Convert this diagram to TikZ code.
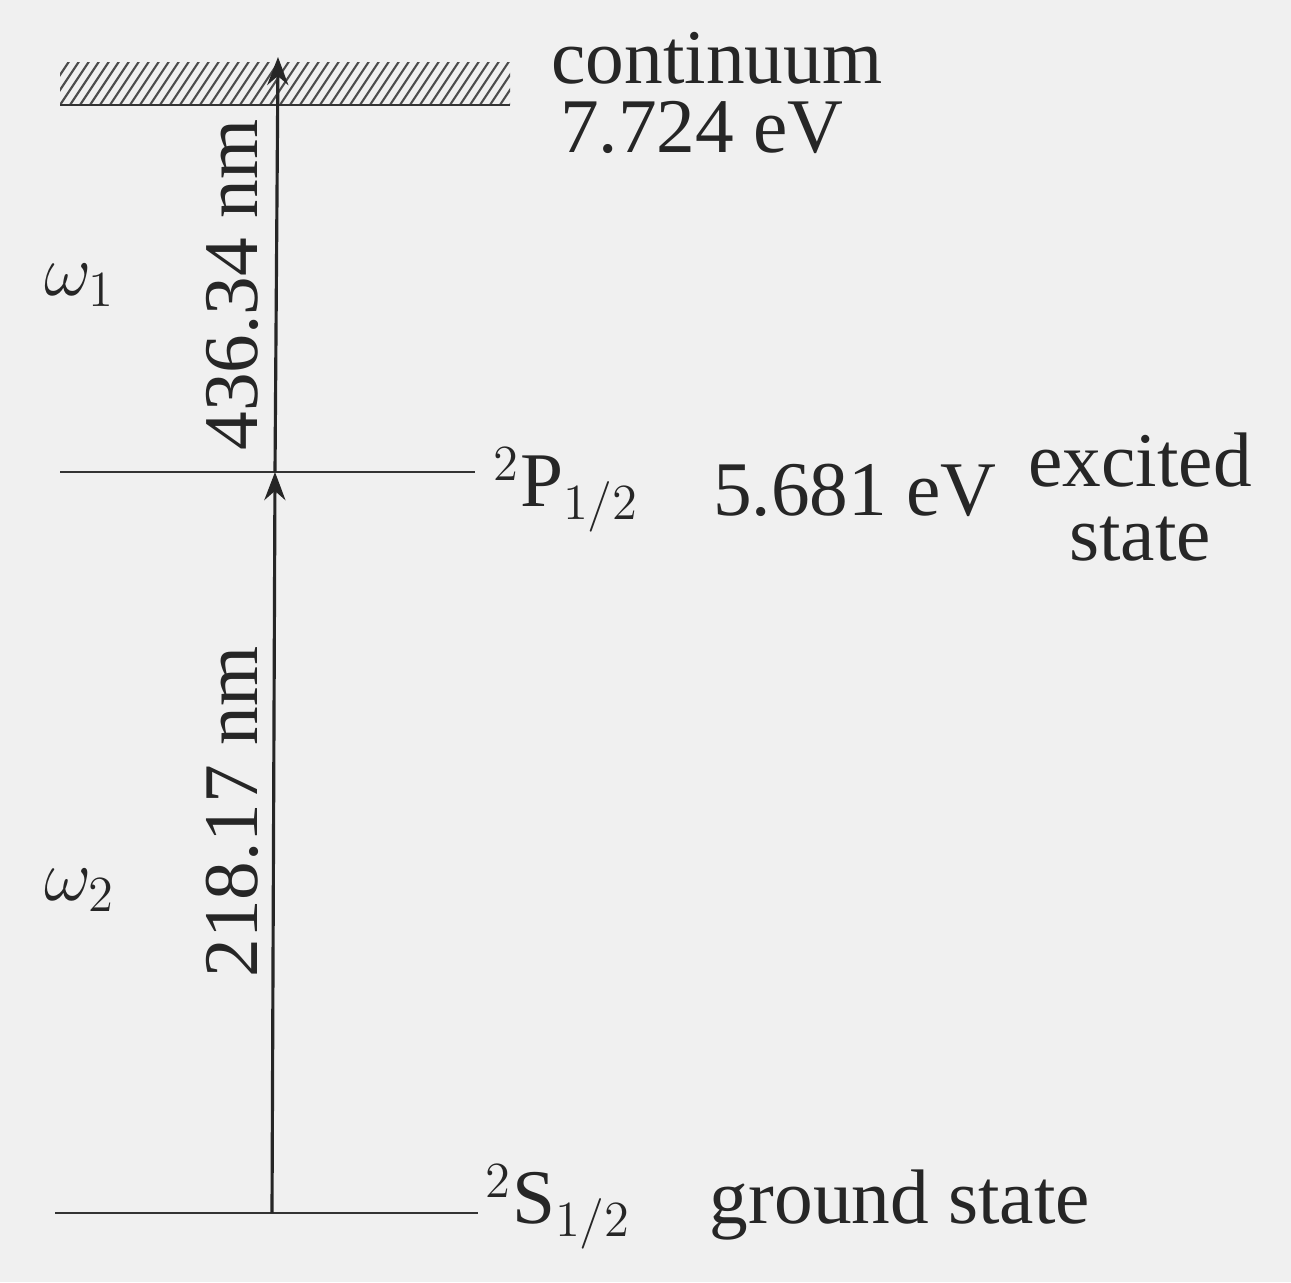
\documentclass[tikz,border=0pt]{standalone}
\usepackage{fontspec}
\setmainfont{Liberation Serif}
\usetikzlibrary{positioning,arrows.meta}

\begin{document}
\begin{tikzpicture}[font=\fontsize{22}{21}\selectfont,
    level/.style={line width=0.8pt, black!80},
    photon/.style={line width=0.9pt, black!85, -{Stealth[length=8pt,width=6pt]}},
    lbl/.style={inner sep=0pt, black!85}]
    \fill[black!6] (0,0) rectangle (12.91,12.82);
    \useasboundingbox (0,0) rectangle (12.91,12.82);

    % energy levels
    \coordinate (cL) at (0.60,11.77);
    \coordinate (cR) at (5.10,11.77);
    \coordinate (pL) at (0.60,8.10);
    \coordinate (pR) at (4.75,8.10);
    \coordinate (sL) at (0.55,0.69);
    \coordinate (sR) at (4.78,0.69);

    % continuum hatching
    \begin{scope}
    \clip (0.60,11.77) rectangle (5.10,12.19);
    \foreach \x in {0.3,0.4,...,5.2}
        \draw[line width=0.6pt, black!70] (\x,11.77) -- ++(0.3,0.45);
    \end{scope}

    \draw[level] (cL) -- (cR);
    \draw[level] (pL) -- (pR);
    \draw[level] (sL) -- (sR);

    % transitions
    \coordinate (s) at (2.72,0.69);
    \coordinate (p) at (2.75,8.10);
    \coordinate (c) at (2.78,12.25);
    \draw[photon] (s) -- (p);
    \draw[photon] (p) -- (c);

    % labels
    \node[lbl] (cont) at (7.17,12.24) {continuum};
    \node[lbl] (ion) at (7.02,11.54) {7.724 eV};
    \node[lbl, anchor=west] (pstate) at (4.93,7.92) {$^{2}$P$_{1/2}$};
    \node[lbl] (pen) at (8.55,7.92) {5.681 eV};
    \node[lbl, align=center] (exc) at (11.40,7.85) {excited\\state};
    \node[lbl, anchor=west] (sstate) at (4.85,0.75) {$^{2}$S$_{1/2}$};
    \node[lbl] (gnd) at (9.00,0.77) {ground state};
    \node[lbl, rotate=90] (lam1) at (2.32,9.97) {436.34 nm};
    \node[lbl, rotate=90] (lam2) at (2.32,4.70) {218.17 nm};
    \node[lbl] (w1) at (0.80,9.97) {$\omega_1$};
    \node[lbl] (w2) at (0.80,3.92) {$\omega_2$};
\end{tikzpicture}
\end{document}
